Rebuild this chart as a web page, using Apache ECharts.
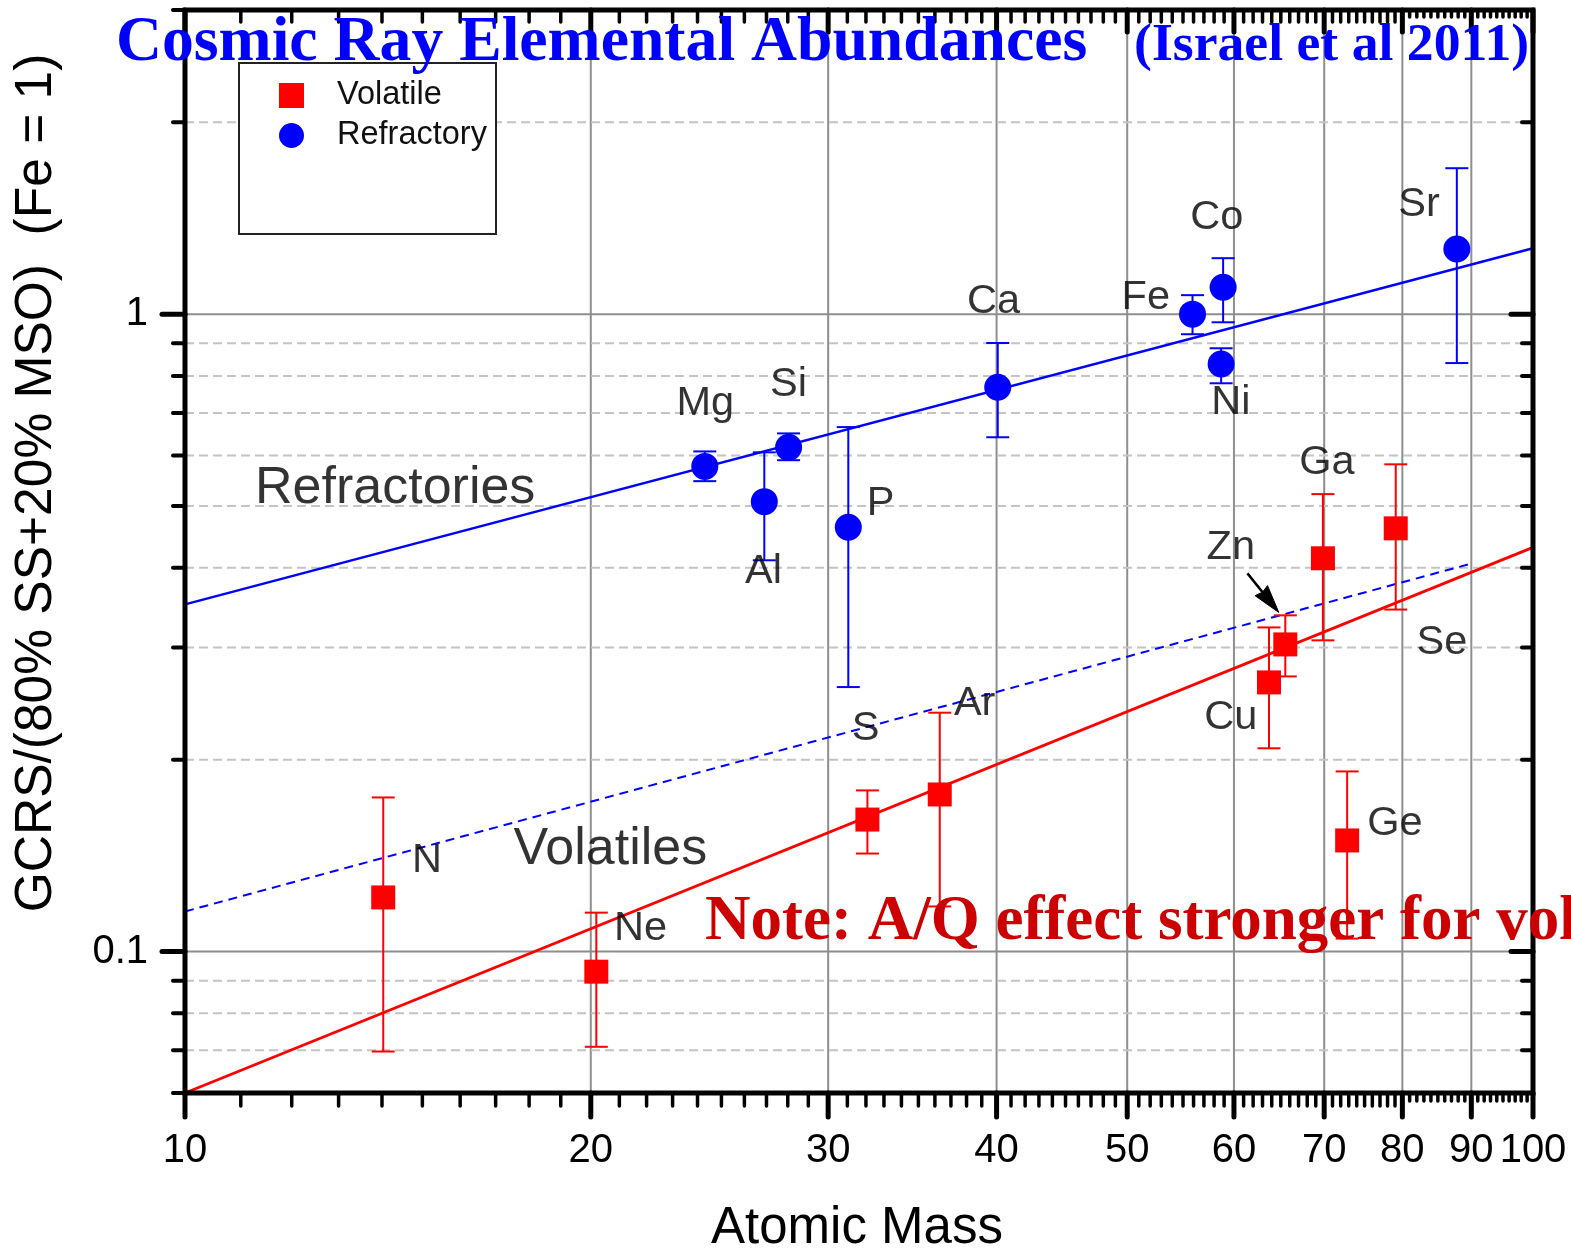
<!DOCTYPE html>
<html>
<head>
<meta charset="utf-8">
<title>Cosmic Ray Elemental Abundances</title>
<script src="https://cdn.jsdelivr.net/npm/echarts@6/dist/echarts.min.js"></script>
<style>
html, body { margin: 0; padding: 0; background: #ffffff; }
#chart { width: 1571px; height: 1250px; }
</style>
</head>
<body>
<div id="chart"></div>
<script>
// ---- Volatile elements (red squares): mass, GCRS ratio, error range ----
const volatileNames = ['N', 'Ne', 'S', 'Ar', 'Cu', 'Zn', 'Ga', 'Ge', 'Se'];
const volatileMass  = [14.03, 20.19, 32.08, 36.3, 63.7, 65.5, 69.85, 72.8, 79.1];
const volatileRatio = [0.1216, 0.0930, 0.1611, 0.1764, 0.2644, 0.3033, 0.414, 0.1494, 0.4613];
const volatileLow   = [0.0697, 0.0709, 0.1425, 0.1177, 0.2084, 0.2702, 0.3078, 0.1048, 0.344];
const volatileHigh  = [0.1745, 0.1151, 0.179, 0.237, 0.3225, 0.3369, 0.522, 0.1917, 0.5813];

// ---- Refractory elements (blue circles) ----
const refractoryNames = ['Mg', 'Al', 'Si', 'P', 'Ca', 'Fe', 'Co', 'Ni', 'Sr'];
const refractoryMass  = [24.3, 26.9, 28.04, 31.05, 40.08, 55.9, 58.9, 58.7, 87.8];
const refractoryRatio = [0.577, 0.508, 0.618, 0.463, 0.768, 1.0, 1.102, 0.835, 1.265];
const refractoryLow   = [0.547, 0.411, 0.590, 0.260, 0.641, 0.930, 0.971, 0.779, 0.838];
const refractoryHigh  = [0.609, 0.607, 0.650, 0.665, 0.901, 1.071, 1.224, 0.884, 1.694];

// ---- Power-law fit lines (end points) ----
const refractoryFitMass  = [10, 100];
const refractoryFitRatio = [0.3505, 1.269];
const volatileFitMass    = [10, 100];
const volatileFitRatio   = [0.06, 0.4307];
const shiftedFitMass     = [10, 90.1];
const shiftedFitRatio    = [0.1156, 0.4064];

// ---- Element name anchors ----
const elementLabelText  = ['Mg', 'Si', 'Al', 'P', 'Ca', 'Fe', 'Co', 'Ni', 'Sr',
                           'N', 'Ne', 'S', 'Ar', 'Cu', 'Zn', 'Ga', 'Se', 'Ge'];
const elementLabelMass  = [24.32, 28.03, 26.86, 32.81, 39.80, 51.61, 58.27, 59.68, 82.30,
                           15.12, 21.77, 31.98, 38.53, 59.68, 59.68, 70.32, 85.59, 78.99];
const elementLabelRatio = [0.7249, 0.7764, 0.3950, 0.5050, 1.048, 1.063, 1.415, 0.7275, 1.488,
                           0.1389, 0.1087, 0.2239, 0.2451, 0.2330, 0.4307, 0.5856, 0.3055, 0.1588];

// ---- Group names ----
const groupLabelText  = ['Refractories', 'Volatiles'];
const groupLabelMass  = [14.32, 20.68];
const groupLabelRatio = [0.5330, 0.1446];

// ---- Pointer to the Zn point: [fromMass, fromRatio, tipMass, tipRatio] ----
const znArrow = [61.4, 0.392, 64.78, 0.3404];

// ---- Axes ----
const xRange = [10, 100];
const yRange = [0.06, 3];
const xMajorTicks = [10, 20, 30, 40, 50, 60, 70, 80, 90, 100];
const xTickLabels = ['10', '20', '30', '40', '50', '60', '70', '80', '90', '100'];
const yMajorTicks = [0.1, 1];
const yTickLabels = ['0.1', '1'];
const yMinorTicks = [0.06, 0.07, 0.08, 0.09, 0.2, 0.3, 0.4, 0.5, 0.6, 0.7, 0.8, 0.9, 2, 3];
// minor ticks at every whole mass number between the labelled values
const xMinorTicks = [];
for (let m = 11; m < 100; m++) { if (m % 10 !== 0) xMinorTicks.push(m); }

const SANS = '"Liberation Sans", Arial, Helvetica, sans-serif';
const SERIF = '"Liberation Serif", "Times New Roman", serif';
const RED = '#ff0000';
const BLUE = '#0000ff';

const zip = (a, b) => a.map((v, i) => [v, b[i]]);
const errRows = (m, lo, hi) => m.map((v, i) => [v, lo[i], hi[i]]);

function errorBarRenderer(color) {
  return function (params, api) {
    const x = api.value(0);
    const pLo = api.coord([x, api.value(1)]);
    const pHi = api.coord([x, api.value(2)]);
    const half = 11.5;
    const st = { stroke: color, lineWidth: 2, fill: null };
    return {
      type: 'group',
      children: [
        { type: 'line', shape: { x1: pLo[0], y1: pLo[1], x2: pHi[0], y2: pHi[1] }, style: st },
        { type: 'line', shape: { x1: pLo[0] - half, y1: pLo[1], x2: pLo[0] + half, y2: pLo[1] }, style: st },
        { type: 'line', shape: { x1: pHi[0] - half, y1: pHi[1], x2: pHi[0] + half, y2: pHi[1] }, style: st }
      ]
    };
  };
}

// Straight pointer with a slim filled head
function renderArrow(params, api) {
  const a = api.coord([api.value(0), api.value(1)]);
  const b = api.coord([api.value(2), api.value(3)]);
  const dx = b[0] - a[0], dy = b[1] - a[1];
  const len = Math.sqrt(dx * dx + dy * dy);
  const ux = dx / len, uy = dy / len;
  const nx = -uy, ny = ux;
  const headLen = 28, headHalf = 8;
  const bx = b[0] - ux * headLen, by = b[1] - uy * headLen;
  return {
    type: 'group',
    children: [
      { type: 'line', shape: { x1: a[0], y1: a[1], x2: bx + ux * 4, y2: by + uy * 4 },
        style: { stroke: '#000', lineWidth: 2.5 } },
      { type: 'polygon', shape: { points: [[b[0], b[1]],
          [bx + nx * headHalf, by + ny * headHalf],
          [bx + ux * 2, by + uy * 2],
          [bx - nx * headHalf, by - ny * headHalf]] },
        style: { fill: '#000', stroke: '#000', lineWidth: 1 } }
    ]
  };
}

// Background grid: solid lines at labelled values, dashed at minor values
function renderGridLines(params, api) {
  const cs = params.coordSys;
  const top = cs.y, bottom = cs.y + cs.height, left = cs.x, right = cs.x + cs.width;
  const kids = [];
  xMajorTicks.forEach(v => {
    if (v <= xRange[0] || v >= xRange[1]) return;
    const px = api.coord([v, yRange[0]])[0];
    kids.push({ type: 'line', shape: { x1: px, y1: top, x2: px, y2: bottom },
      style: { stroke: '#8e8e8e', lineWidth: 2 } });
  });
  yMinorTicks.forEach(v => {
    if (v <= yRange[0] || v >= yRange[1]) return;
    const py = api.coord([xRange[0], v])[1];
    kids.push({ type: 'line', shape: { x1: left, y1: py, x2: right, y2: py },
      style: { stroke: '#c4c4c4', lineWidth: 2, lineDash: [9, 5] } });
  });
  yMajorTicks.forEach(v => {
    const py = api.coord([xRange[0], v])[1];
    kids.push({ type: 'line', shape: { x1: left, y1: py, x2: right, y2: py },
      style: { stroke: '#8e8e8e', lineWidth: 2 } });
  });
  return { type: 'group', children: kids };
}

// Frame, tick marks on all four sides and the tick labels
function renderFrame(params, api) {
  const cs = params.coordSys;
  const top = cs.y, bottom = cs.y + cs.height, left = cs.x, right = cs.x + cs.width;
  const kids = [];
  const tick = (x1, y1, x2, y2, w) => kids.push({ type: 'line',
    shape: { x1, y1, x2, y2 }, style: { stroke: '#000', lineWidth: w, lineCap: 'round' } });

  xMajorTicks.forEach(v => {
    const px = api.coord([v, yRange[0]])[0];
    tick(px, bottom, px, bottom + 24, 5);
    tick(px, top, px, top + 22, 5);
  });
  xMinorTicks.forEach(v => {
    const px = api.coord([v, yRange[0]])[0];
    const lenOut = v > 80 ? 8 : 13;
    const lenIn = v > 80 ? 7 : 12;
    tick(px, bottom, px, bottom + lenOut, 3.5);
    tick(px, top, px, top + lenIn, 3.5);
  });
  yMajorTicks.forEach(v => {
    const py = api.coord([xRange[0], v])[1];
    tick(left, py, left - 23, py, 5);
    tick(right, py, right - 22, py, 5);
  });
  yMinorTicks.forEach(v => {
    const py = api.coord([xRange[0], v])[1];
    tick(left, py, left - 12, py, 4);
    tick(right, py, right - 11, py, 4);
  });

  kids.push({ type: 'rect', shape: { x: left, y: top, width: cs.width, height: cs.height },
    style: { fill: 'none', stroke: '#000', lineWidth: 5 } });

  xMajorTicks.forEach((v, i) => {
    const px = api.coord([v, yRange[0]])[0];
    kids.push({ type: 'text', x: px, y: bottom + 58,
      style: { text: xTickLabels[i], fontSize: 40, fontFamily: SANS, fill: '#000',
        align: 'center', verticalAlign: 'middle' } });
  });
  yMajorTicks.forEach((v, i) => {
    const py = api.coord([xRange[0], v])[1];
    kids.push({ type: 'text', x: left - 37, y: py,
      style: { text: yTickLabels[i], fontSize: 40, fontFamily: SANS, fill: '#000',
        align: 'right', verticalAlign: 'middle' } });
  });
  return { type: 'group', children: kids };
}

const chart = echarts.init(document.getElementById('chart'), null, { renderer: 'canvas' });

chart.setOption({
  animation: false,
  backgroundColor: '#ffffff',
  grid: { left: 185, right: 38, top: 10, bottom: 157, show: false },
  xAxis: {
    type: 'log', logBase: 10, min: xRange[0], max: xRange[1],
    axisLine: { show: false }, axisTick: { show: false },
    axisLabel: { show: false }, splitLine: { show: false }
  },
  yAxis: {
    type: 'log', logBase: 10, min: yRange[0], max: yRange[1],
    axisLine: { show: false }, axisTick: { show: false },
    axisLabel: { show: false }, splitLine: { show: false }
  },
  legend: {
    orient: 'vertical', left: 279, top: 79, padding: 0,
    itemGap: 7, itemWidth: 25, itemHeight: 25,
    selectedMode: false, z: 10,
    data: [{ name: 'Volatile', icon: 'rect' }, { name: 'Refractory', icon: 'circle' }],
    textStyle: { fontFamily: SANS, fontSize: 32.5, color: '#111', padding: [0, 0, 0, 28] }
  },
  graphic: [
    { type: 'rect', z: 5, shape: { x: 239, y: 63, width: 257, height: 171 },
      style: { fill: '#ffffff', stroke: '#222', lineWidth: 2 } },
    { type: 'text', z: 20, x: 116, y: 44,
      style: { text: 'Cosmic Ray Elemental Abundances', fontSize: 63.7, fontWeight: 'bold',
        fontFamily: SERIF, fill: BLUE, align: 'left', verticalAlign: 'middle' } },
    { type: 'text', z: 20, x: 1134, y: 46,
      style: { text: '(Israel et al 2011)', fontSize: 53.7, fontWeight: 'bold',
        fontFamily: SERIF, fill: BLUE, align: 'left', verticalAlign: 'middle' } },
    { type: 'text', z: 20, x: 705, y: 923,
      style: { text: 'Note: A/Q effect stronger for volatiles', fontSize: 63, fontWeight: 'bold',
        fontFamily: SERIF, fill: '#cc0000', align: 'left', verticalAlign: 'middle' } },
    { type: 'text', z: 20, x: 37, y: 483, rotation: Math.PI / 2,
      style: { text: 'GCRS/(80% SS+20% MSO)  (Fe = 1)', fontSize: 51.5, fontFamily: SANS,
        fill: '#000', align: 'center', verticalAlign: 'middle' } },
    { type: 'text', z: 20, x: 857, y: 1229,
      style: { text: 'Atomic Mass', fontSize: 51, fontFamily: SANS,
        fill: '#000', align: 'center', verticalAlign: 'middle' } }
  ],
  series: [
    {
      type: 'custom', name: 'grid lines', silent: true, z: 1, clip: false,
      data: [[xRange[0], yRange[0]]], renderItem: renderGridLines
    },
    {
      type: 'line', name: 'Refractory fit', silent: true, z: 2, showSymbol: false,
      data: zip(refractoryFitMass, refractoryFitRatio),
      lineStyle: { color: BLUE, width: 2.5 }
    },
    {
      type: 'line', name: 'Volatile fit', silent: true, z: 2, showSymbol: false,
      data: zip(volatileFitMass, volatileFitRatio),
      lineStyle: { color: RED, width: 2.8 }
    },
    {
      type: 'line', name: 'Refractory fit (shifted)', silent: true, z: 2, showSymbol: false,
      data: zip(shiftedFitMass, shiftedFitRatio),
      lineStyle: { color: BLUE, width: 2, type: [9, 6] }
    },
    {
      type: 'custom', name: 'Zn pointer', silent: true, z: 5, clip: false,
      data: [znArrow], renderItem: renderArrow
    },
    {
      type: 'custom', name: 'Volatile errors', silent: true, z: 3,
      data: errRows(volatileMass, volatileLow, volatileHigh),
      renderItem: errorBarRenderer(RED)
    },
    {
      type: 'custom', name: 'Refractory errors', silent: true, z: 3,
      data: errRows(refractoryMass, refractoryLow, refractoryHigh),
      renderItem: errorBarRenderer(BLUE)
    },
    {
      type: 'scatter', name: 'Volatile', z: 4, symbol: 'rect', symbolSize: 24,
      itemStyle: { color: RED, opacity: 1 },
      data: volatileMass.map((m, i) => ({ name: volatileNames[i], value: [m, volatileRatio[i]] }))
    },
    {
      type: 'scatter', name: 'Refractory', z: 4, symbol: 'circle', symbolSize: 27,
      itemStyle: { color: BLUE, opacity: 1 },
      data: refractoryMass.map((m, i) => ({ name: refractoryNames[i], value: [m, refractoryRatio[i]] }))
    },
    {
      type: 'scatter', name: 'element names', silent: true, z: 5, symbolSize: 0,
      label: { show: true, position: 'inside', formatter: '{b}', fontFamily: SANS,
        fontSize: 41.5, color: '#000' },
      data: elementLabelText.map((t, i) => ({ name: t, value: [elementLabelMass[i], elementLabelRatio[i]] }))
    },
    {
      type: 'scatter', name: 'group names', silent: true, z: 5, symbolSize: 0,
      label: { show: true, position: 'inside', formatter: '{b}', fontFamily: SANS,
        fontSize: 52, color: '#000' },
      data: groupLabelText.map((t, i) => ({ name: t, value: [groupLabelMass[i], groupLabelRatio[i]] }))
    },
    {
      type: 'custom', name: 'frame', silent: true, z: 6, clip: false,
      data: [[xRange[0], yRange[0]]], renderItem: renderFrame
    }
  ]
});
</script>
</body>
</html>
